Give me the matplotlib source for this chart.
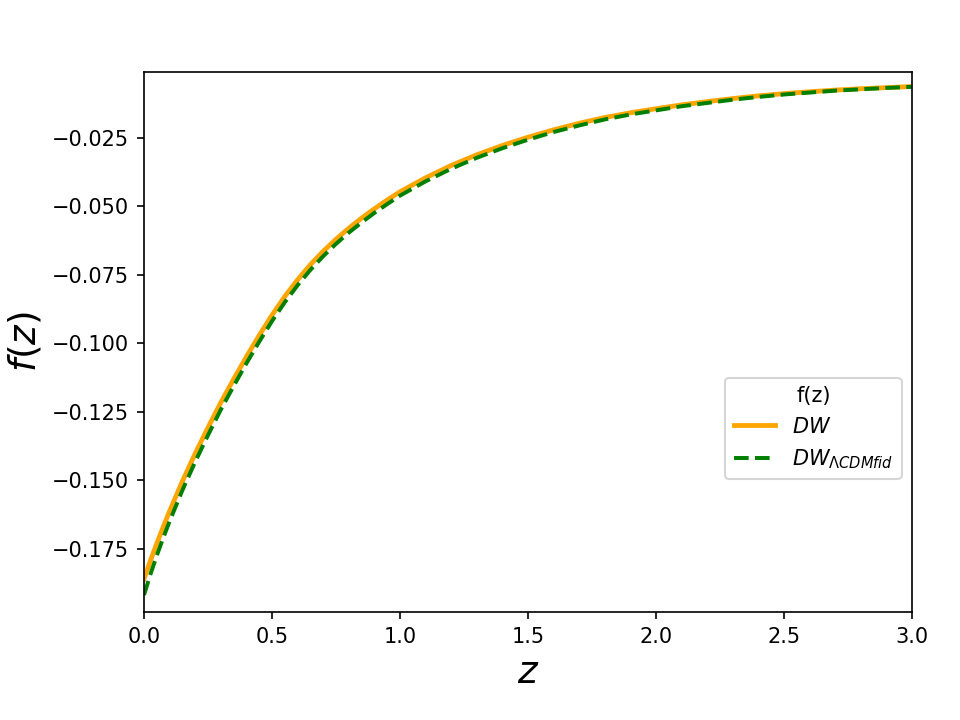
import matplotlib
matplotlib.use("Agg")
import matplotlib.pyplot as plt

z_vals = [0.0, 0.025, 0.05, 0.075, 0.1, 0.15, 0.2, 0.25, 0.3, 0.35, 0.4, 0.45,
          0.5, 0.55, 0.6, 0.65, 0.7, 0.75, 0.8, 0.85, 0.9, 0.95, 1.0,
          1.1, 1.2, 1.3, 1.4, 1.5, 1.6, 1.7, 1.8, 1.9, 2.0,
          2.1, 2.2, 2.3, 2.4, 2.5, 2.6, 2.7, 2.8, 2.9, 3.0]

f_dw = [-0.1860, -0.1793, -0.1730, -0.1670, -0.1612, -0.1503, -0.1402, -0.1307,
        -0.1216, -0.1131, -0.1049, -0.0971,
        -0.0897, -0.0829, -0.0768, -0.0713, -0.0664, -0.0620, -0.0580, -0.0543,
        -0.0509, -0.0477, -0.0447,
        -0.0396, -0.0351, -0.0312, -0.0278, -0.0248, -0.0221, -0.0197, -0.0176,
        -0.0159, -0.0144,
        -0.0130, -0.0118, -0.0107, -0.0097, -0.0089, -0.0082, -0.0076, -0.0071,
        -0.0067, -0.0063]

f_lcdm = [-0.1918, -0.1843, -0.1774, -0.1710, -0.1649, -0.1536, -0.1432, -0.1335,
          -0.1242, -0.1156, -0.1073, -0.0994,
          -0.0919, -0.0850, -0.0788, -0.0732, -0.0682, -0.0637, -0.0596, -0.0559,
          -0.0524, -0.0492, -0.0461,
          -0.0409, -0.0363, -0.0323, -0.0288, -0.0257, -0.0229, -0.0205, -0.0183,
          -0.0165, -0.0150,
          -0.0135, -0.0123, -0.0111, -0.0101, -0.0092, -0.0085, -0.0078, -0.0073,
          -0.0068, -0.0064]

fig = plt.figure(figsize=(6.4, 4.8), dpi=150)
ax = fig.add_subplot(111)
fig.subplots_adjust(left=0.15, right=0.95, top=0.9, bottom=0.15)

ax.plot(z_vals, f_dw, color='orange', lw=2.3, label=r'$DW$')
ax.plot(z_vals, f_lcdm, color='green', lw=1.9, ls='--', label=r'$DW_{\Lambda CDM fid}$')

ax.set_xlim(0, 3)
ax.set_ylim(-0.198, -0.001)
ax.set_xlabel(r'$z$', fontsize=18)
ax.set_ylabel(r'$f(z)$', fontsize=18)

ax.legend(title='f(z)', loc='center right', bbox_to_anchor=(1.0, 0.34))

fig.savefig('out.png', dpi=150)
